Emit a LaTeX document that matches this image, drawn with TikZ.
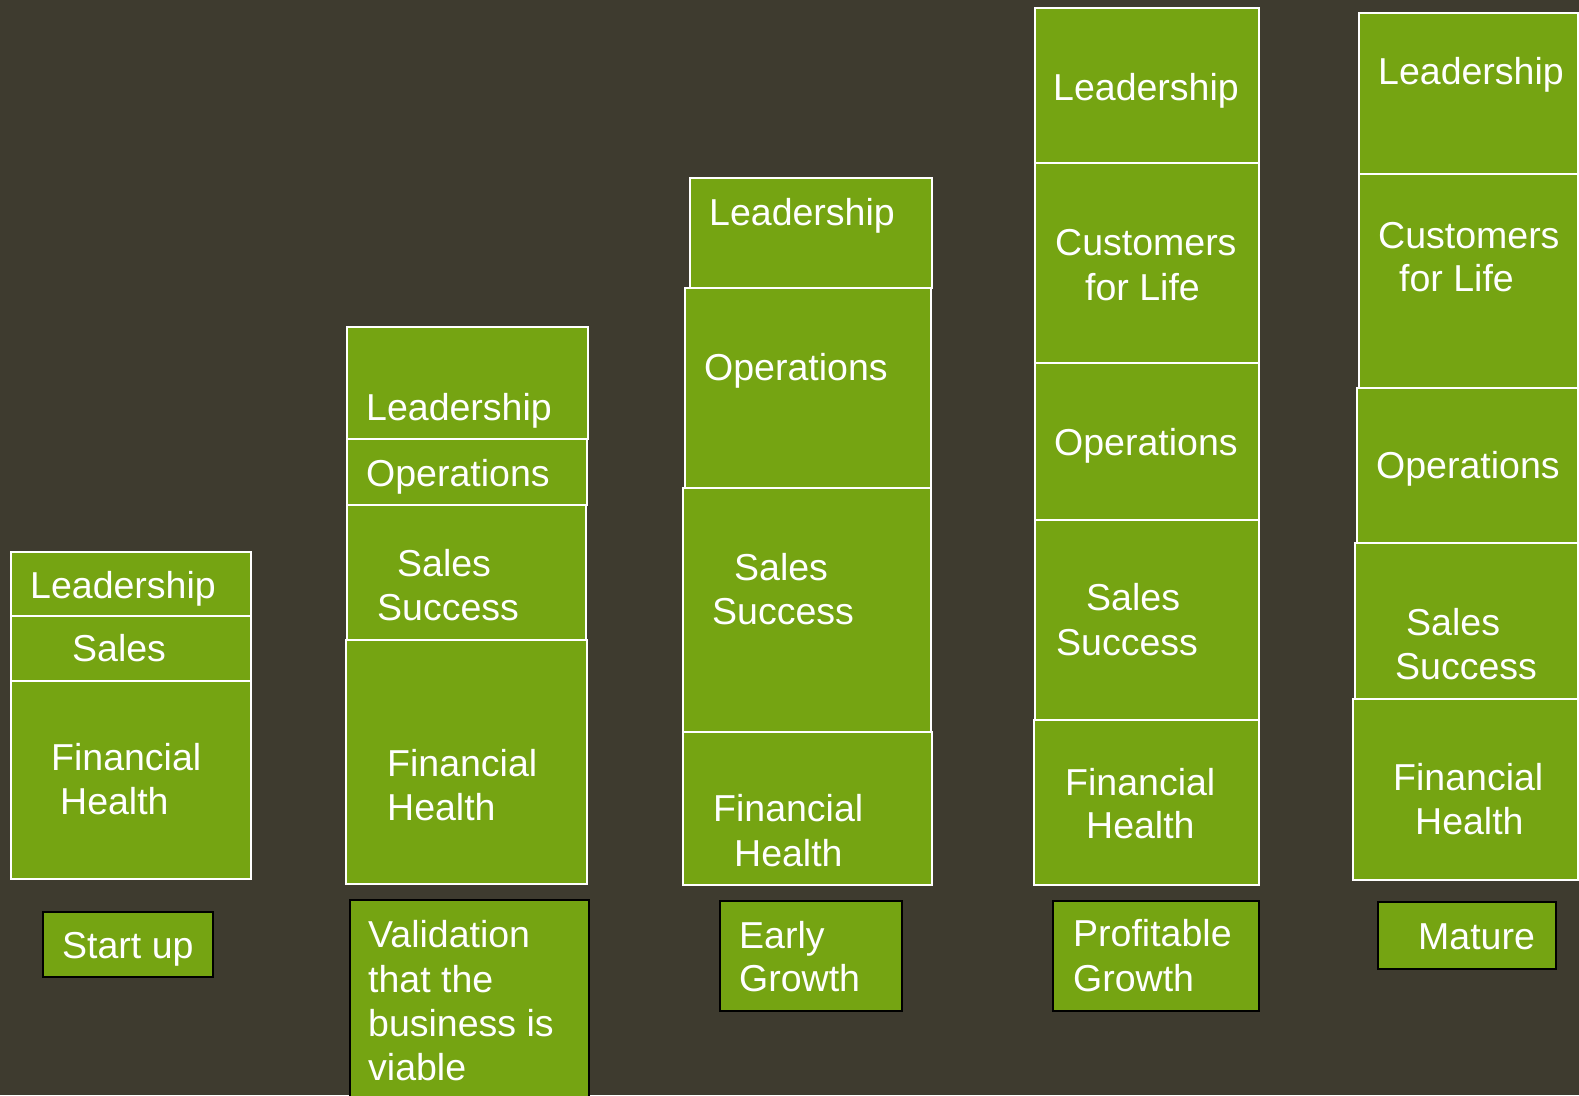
\documentclass[tikz,border=0pt]{standalone}
\usepackage{fontspec}
\setmainfont{Liberation Sans}
\definecolor{bgolive}{RGB}{62,59,47}
\definecolor{boxgreen}{RGB}{117,164,18}
\newcommand\stagefont{\fontsize{37.5}{44}\selectfont}
\tikzset{
  stackbox/.style={fill=boxgreen, draw=white, line width=2pt},
  stagebox/.style={fill=boxgreen, draw=black, line width=2.5pt},
  lbl/.style={text=white, anchor=base west, inner sep=0pt, font=\stagefont},
}
\begin{document}
\begin{tikzpicture}[x=1pt, y=-1pt]
\useasboundingbox (0,0) rectangle (1579,1095);
\fill[bgolive] (0,0) rectangle (1579,1095);
\clip (0,0) rectangle (1579,1095);

% ---- Stage 1: Start up ----
\draw[stackbox] (11,552) rectangle (251,616);
\draw[stackbox] (11,616) rectangle (251,681);
\draw[stackbox] (11,681) rectangle (251,879);
\draw[stagebox] (43,912) rectangle (213,977);
\node[lbl] (s1lead)  at (30,598) {Leadership};
\node[lbl] (s1sales) at (72,661) {Sales};
\node[lbl] (s1fin1)  at (51,770) {Financial};
\node[lbl] (s1fin2)  at (60,814) {Health};
\node[lbl] (s1stage) at (62,958) {Start up};

% ---- Stage 2: Validation ----
\draw[stackbox] (347,327) rectangle (588,439);
\draw[stackbox] (347,439) rectangle (587,505);
\draw[stackbox] (347,505) rectangle (586,640);
\draw[stackbox] (346,640) rectangle (587,884);
\draw[stagebox] (350,900) rectangle (589,1110);
\node[lbl] (s2lead)  at (366,420) {Leadership};
\node[lbl] (s2ops)   at (366,486) {Operations};
\node[lbl] (s2sal1)  at (397,576) {Sales};
\node[lbl] (s2sal2)  at (377,620) {Success};
\node[lbl] (s2fin1)  at (387,776) {Financial};
\node[lbl] (s2fin2)  at (387,820) {Health};
\node[lbl] (s2st1)   at (368,947) {Validation};
\node[lbl] (s2st2)   at (368,992) {that the};
\node[lbl] (s2st3)   at (368,1036) {business is};
\node[lbl] (s2st4)   at (368,1080) {viable};

% ---- Stage 3: Early Growth ----
\draw[stackbox] (690,178) rectangle (932,288);
\draw[stackbox] (685,288) rectangle (931,488);
\draw[stackbox] (683,488) rectangle (931,732);
\draw[stackbox] (683,732) rectangle (932,885);
\draw[stagebox] (720,901) rectangle (902,1011);
\node[lbl] (s3lead)  at (709,225) {Leadership};
\node[lbl] (s3ops)   at (704,380) {Operations};
\node[lbl] (s3sal1)  at (734,580) {Sales};
\node[lbl] (s3sal2)  at (712,624) {Success};
\node[lbl] (s3fin1)  at (713,821) {Financial};
\node[lbl] (s3fin2)  at (734,866) {Health};
\node[lbl] (s3st1)   at (739,948) {Early};
\node[lbl] (s3st2)   at (739,991) {Growth};

% ---- Stage 4: Profitable Growth ----
\draw[stackbox] (1035,8) rectangle (1259,163);
\draw[stackbox] (1035,163) rectangle (1259,363);
\draw[stackbox] (1035,363) rectangle (1259,520);
\draw[stackbox] (1035,520) rectangle (1259,720);
\draw[stackbox] (1034,720) rectangle (1259,885);
\draw[stagebox] (1053,901) rectangle (1259,1011);
\node[lbl] (s4lead)  at (1053,100) {Leadership};
\node[lbl] (s4cus1)  at (1055,255) {Customers};
\node[lbl] (s4cus2)  at (1085,300) {for Life};
\node[lbl] (s4ops)   at (1054,455) {Operations};
\node[lbl] (s4sal1)  at (1086,610) {Sales};
\node[lbl] (s4sal2)  at (1056,655) {Success};
\node[lbl] (s4fin1)  at (1065,795) {Financial};
\node[lbl] (s4fin2)  at (1086,838) {Health};
\node[lbl] (s4st1)   at (1073,946) {Profitable};
\node[lbl] (s4st2)   at (1073,991) {Growth};

% ---- Stage 5: Mature ----
\draw[stackbox] (1359,13) rectangle (1578,174);
\draw[stackbox] (1359,174) rectangle (1578,388);
\draw[stackbox] (1357,388) rectangle (1578,543);
\draw[stackbox] (1355,543) rectangle (1578,699);
\draw[stackbox] (1353,699) rectangle (1578,880);
\draw[stagebox] (1378,902) rectangle (1556,969);
\node[lbl] (s5lead)  at (1378,84) {Leadership};
\node[lbl] (s5cus1)  at (1378,248) {Customers};
\node[lbl] (s5cus2)  at (1399,291) {for Life};
\node[lbl] (s5ops)   at (1376,478) {Operations};
\node[lbl] (s5sal1)  at (1406,635) {Sales};
\node[lbl] (s5sal2)  at (1395,679) {Success};
\node[lbl] (s5fin1)  at (1393,790) {Financial};
\node[lbl] (s5fin2)  at (1415,834) {Health};
\node[lbl] (s5st)    at (1418,949) {Mature};
\end{tikzpicture}
\end{document}
